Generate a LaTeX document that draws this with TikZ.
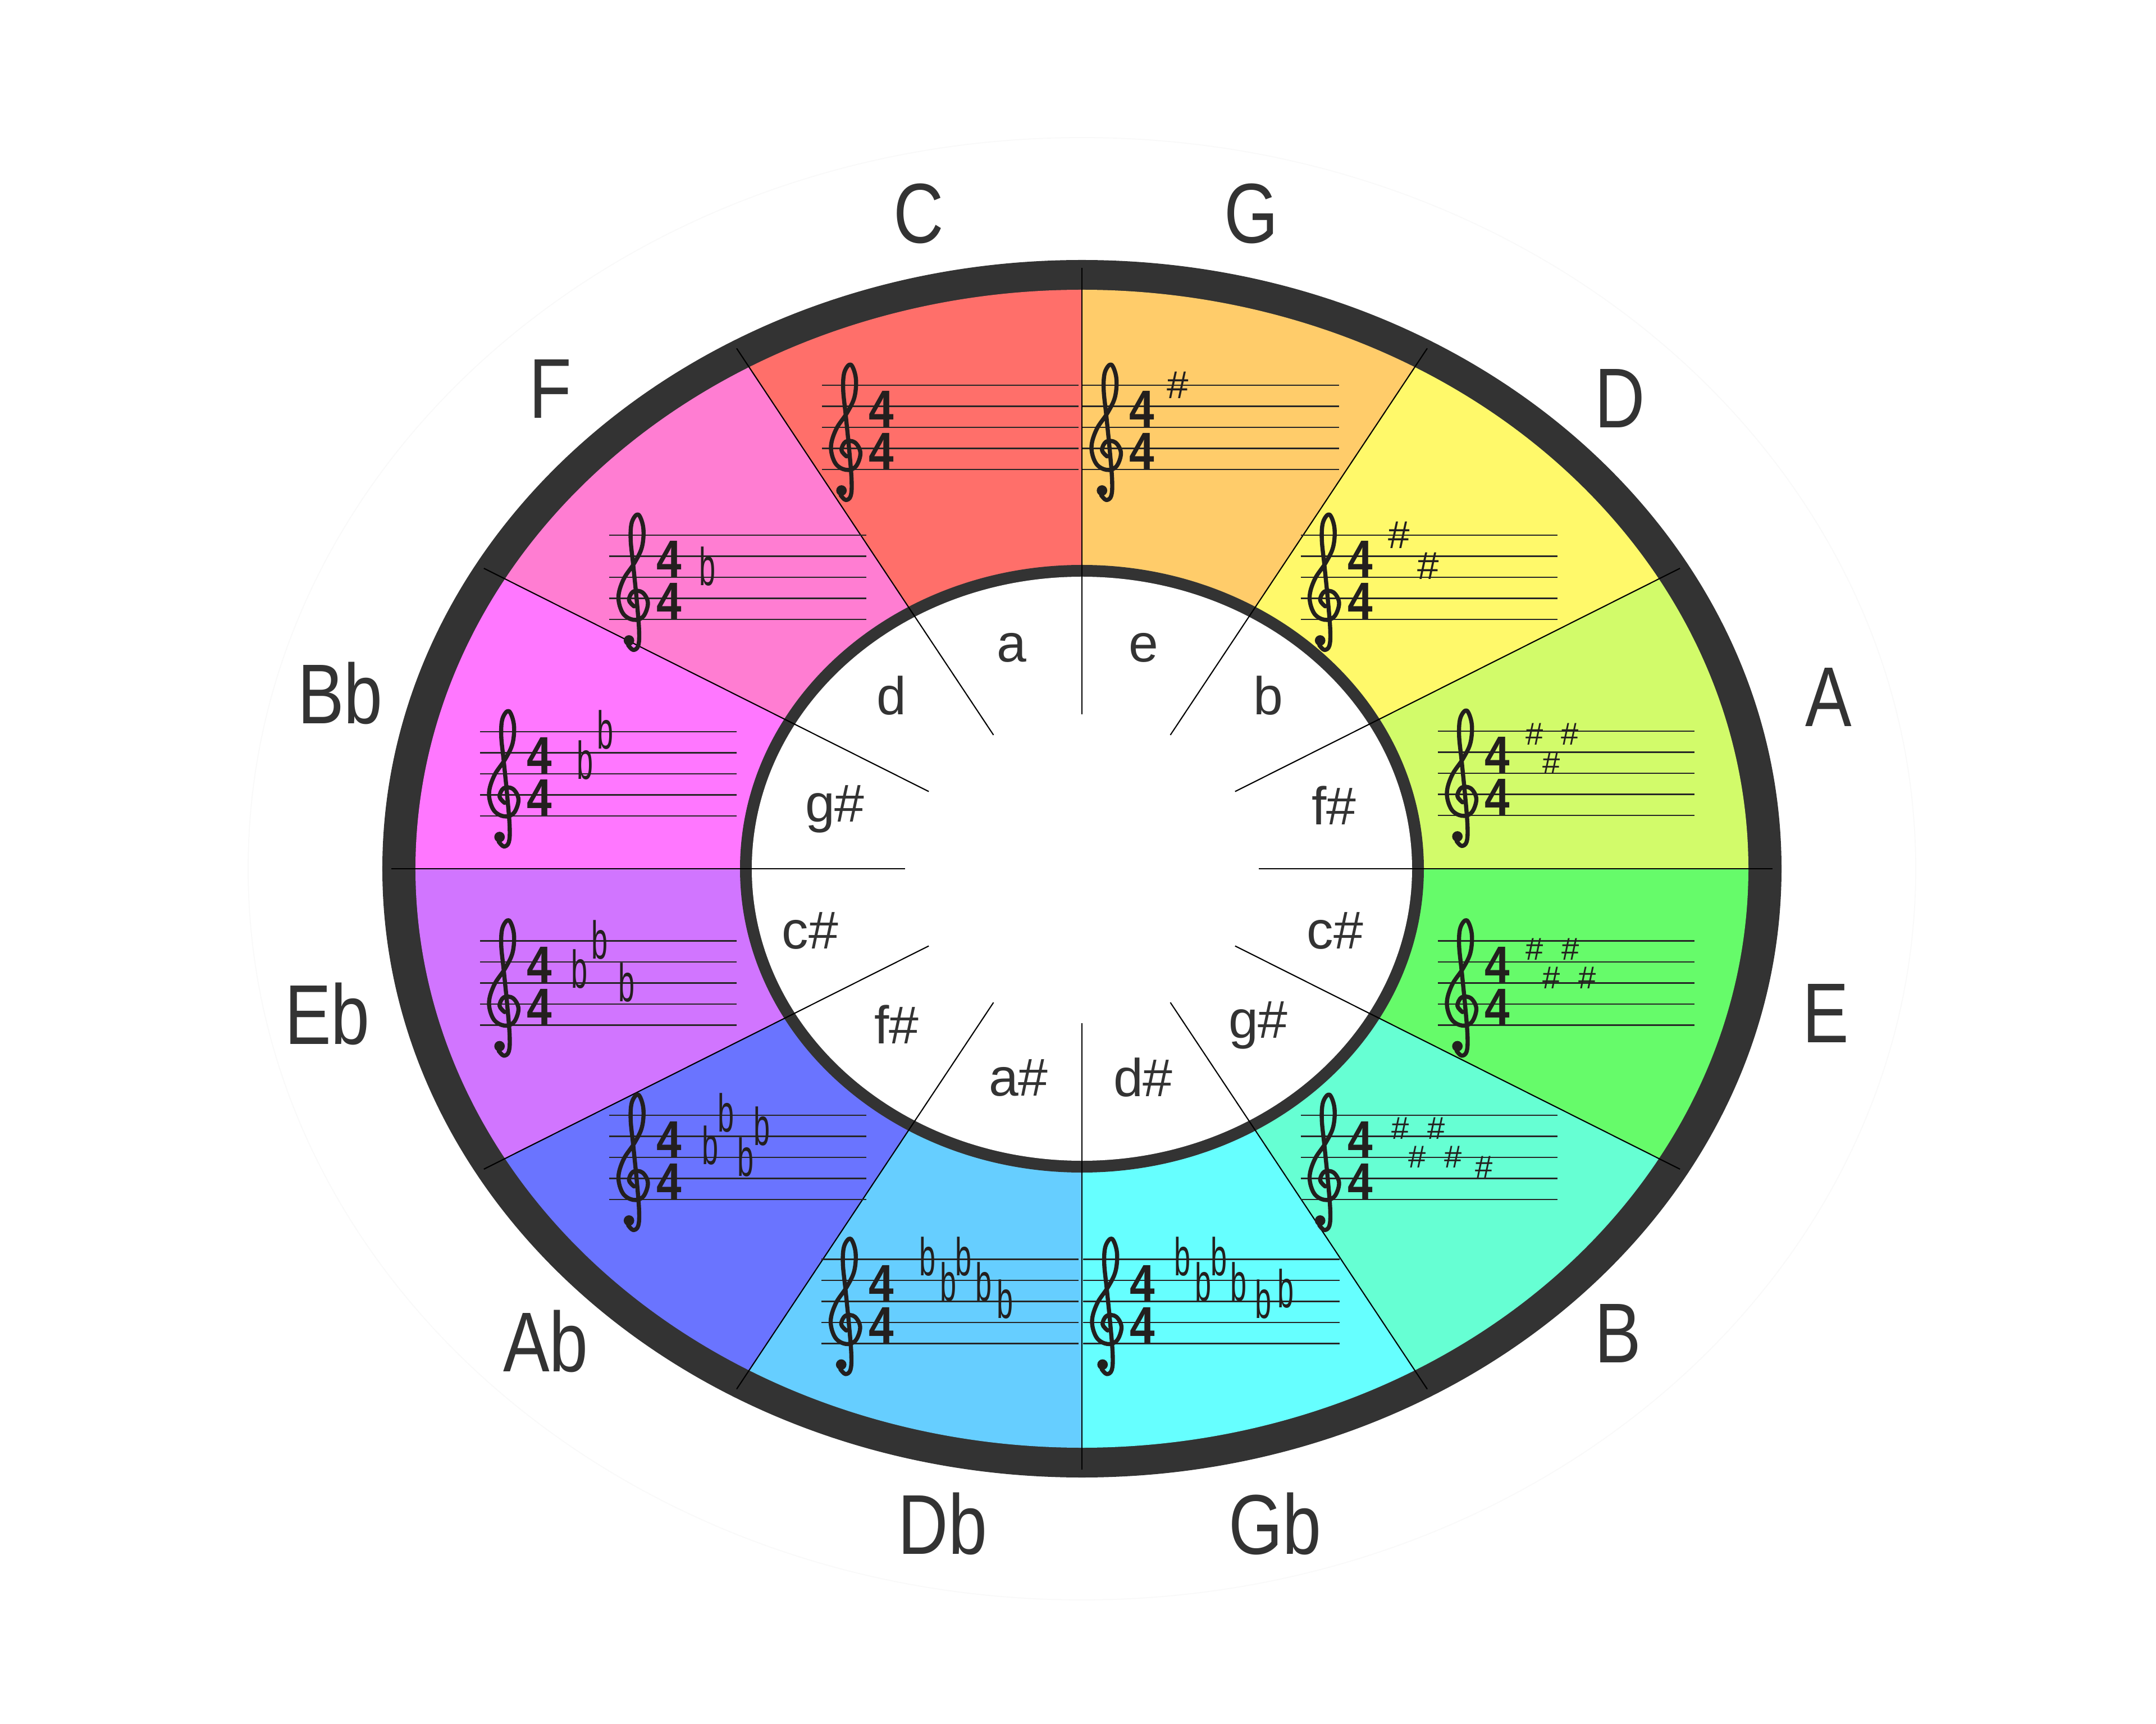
\documentclass[tikz,border=0pt]{standalone}
\usepackage{fontspec}
\setmainfont{Liberation Sans}
\newfontfamily\keyfont[FakeStretch=0.82]{Liberation Sans}
\newfontfamily\flatfont[FakeStretch=0.55]{Liberation Sans}
\newfontfamily\timefont[FakeStretch=0.86]{Liberation Sans}
\usepackage{xcolor}
\definecolor{ringgray}{HTML}{333333}
\definecolor{clefink}{HTML}{231F1E}
\definecolor{secC}{HTML}{FF6F6A}
\definecolor{secG}{HTML}{FFCC6A}
\definecolor{secD}{HTML}{FFF96A}
\definecolor{secA}{HTML}{D2FB6A}
\definecolor{secE}{HTML}{66FB6A}
\definecolor{secB}{HTML}{66FFD3}
\definecolor{secGb}{HTML}{66FFFF}
\definecolor{secDb}{HTML}{66CEFF}
\definecolor{secAb}{HTML}{6A74FF}
\definecolor{secEb}{HTML}{D175FF}
\definecolor{secBb}{HTML}{FF77FF}
\definecolor{secF}{HTML}{FF7DD2}
\usepackage{tikz}

\begin{document}
\begin{tikzpicture}[
    spoke/.style={draw=black, line width=0.6pt},
    staffline/.style={draw=black!85, line width=0.8pt},
    clef/.style={draw=clefink, line width=2.1pt, line cap=round, line join=round},
    timesig/.style={anchor=base, inner sep=0pt, text=clefink,
        font=\timefont\bfseries\fontsize{26.5}{26.5}\selectfont},
    keylabel/.style={text=ringgray, inner sep=0pt,
        font=\keyfont\fontsize{43}{43}\selectfont},
    minorlabel/.style={text=ringgray, inner sep=0pt,
        font=\fontsize{27}{27}\selectfont},
    sharpsign/.style={text=clefink, inner sep=0pt,
        font=\fontsize{16}{16}\selectfont},
    bigsharp/.style={sharpsign, font=\fontsize{19.7}{19.7}\selectfont},
    flatsign/.style={anchor=base west, inner sep=0pt, text=clefink,
        font=\flatfont\fontsize{27}{27}\selectfont},
    pics/staff/.style={code={
        \draw[staffline] (0,0) -- (4.57,0);
        \draw[staffline] (0,-0.375) -- (4.57,-0.375);
        \draw[staffline] (0,-0.75) -- (4.57,-0.75);
        \draw[staffline] (0,-1.125) -- (4.57,-1.125);
        \draw[staffline] (0,-1.5) -- (4.57,-1.5);
        \begin{scope}[shift={(0.43,-1.5)}, scale=0.375]
            \draw[clef] plot[smooth, tension=0.6] coordinates {
                (0.02,0.62) (-0.22,0.92) (-0.02,1.32) (0.42,1.28) (0.68,0.78)
                (0.46,0.14) (0.0,-0.02) (-0.5,0.28) (-0.72,1.05) (-0.48,1.9)
                (0.05,2.7) (0.4,3.45) (0.46,4.35) (0.22,4.98) (-0.08,4.62)
                (-0.14,3.8) (-0.02,2.6) (0.14,1.0) (0.26,-0.5) (0.22,-1.25)
                (-0.02,-1.45) (-0.26,-1.22)};
            \fill[clefink] (-0.22,-1.0) circle (0.25);
        \end{scope}
        \node[timesig] (-top) at (1.06,-0.75) {4};
        \node[timesig] (-bot) at (1.06,-1.5) {4};
    }}
]

\fill[white] (-19.27,-15.22) rectangle (19.13,15.47);
\useasboundingbox (-19.27,-15.22) rectangle (19.13,15.47);

% outer rings
\draw[gray!5, line width=0.5pt] (0,0) ellipse [x radius=14.85, y radius=13.02];
\fill[ringgray] (0,0) ellipse [x radius=12.46, y radius=10.84];

% key sectors
\fill[secC]  (0,0) -- (90:11.87 and 10.31) arc[start angle=90, end angle=120, x radius=11.87, y radius=10.31] -- cycle;
\fill[secG]  (0,0) -- (60:11.87 and 10.31) arc[start angle=60, end angle=90, x radius=11.87, y radius=10.31] -- cycle;
\fill[secD]  (0,0) -- (30:11.87 and 10.31) arc[start angle=30, end angle=60, x radius=11.87, y radius=10.31] -- cycle;
\fill[secA]  (0,0) -- (0:11.87 and 10.31) arc[start angle=0, end angle=30, x radius=11.87, y radius=10.31] -- cycle;
\fill[secE]  (0,0) -- (-30:11.87 and 10.31) arc[start angle=-30, end angle=0, x radius=11.87, y radius=10.31] -- cycle;
\fill[secB]  (0,0) -- (-60:11.87 and 10.31) arc[start angle=-60, end angle=-30, x radius=11.87, y radius=10.31] -- cycle;
\fill[secGb] (0,0) -- (-90:11.87 and 10.31) arc[start angle=-90, end angle=-60, x radius=11.87, y radius=10.31] -- cycle;
\fill[secDb] (0,0) -- (-120:11.87 and 10.31) arc[start angle=-120, end angle=-90, x radius=11.87, y radius=10.31] -- cycle;
\fill[secAb] (0,0) -- (-150:11.87 and 10.31) arc[start angle=-150, end angle=-120, x radius=11.87, y radius=10.31] -- cycle;
\fill[secEb] (0,0) -- (180:11.87 and 10.31) arc[start angle=180, end angle=210, x radius=11.87, y radius=10.31] -- cycle;
\fill[secBb] (0,0) -- (150:11.87 and 10.31) arc[start angle=150, end angle=180, x radius=11.87, y radius=10.31] -- cycle;
\fill[secF]  (0,0) -- (120:11.87 and 10.31) arc[start angle=120, end angle=150, x radius=11.87, y radius=10.31] -- cycle;

% inner ring
\fill[ringgray] (0,0) ellipse [x radius=6.09, y radius=5.41];
\fill[white] (0,0) ellipse [x radius=5.88, y radius=5.20];

% spokes
\draw[spoke] (0:3.15 and 2.75) -- (0:12.3 and 10.7);
\draw[spoke] (30:3.15 and 2.75) -- (30:12.3 and 10.7);
\draw[spoke] (60:3.15 and 2.75) -- (60:12.3 and 10.7);
\draw[spoke] (90:3.15 and 2.75) -- (90:12.3 and 10.7);
\draw[spoke] (120:3.15 and 2.75) -- (120:12.3 and 10.7);
\draw[spoke] (150:3.15 and 2.75) -- (150:12.3 and 10.7);
\draw[spoke] (180:3.15 and 2.75) -- (180:12.3 and 10.7);
\draw[spoke] (210:3.15 and 2.75) -- (210:12.3 and 10.7);
\draw[spoke] (240:3.15 and 2.75) -- (240:12.3 and 10.7);
\draw[spoke] (270:3.15 and 2.75) -- (270:12.3 and 10.7);
\draw[spoke] (300:3.15 and 2.75) -- (300:12.3 and 10.7);
\draw[spoke] (330:3.15 and 2.75) -- (330:12.3 and 10.7);

% staves
\pic (stC)  at (-4.63,8.61)   {staff};
\pic (stG)  at (0.01,8.61)    {staff};
\pic (stD)  at (3.895,5.94)   {staff};
\pic (stA)  at (6.34,2.45)    {staff};
\pic (stE)  at (6.34,-1.285)  {staff};
\pic (stB)  at (3.895,-4.39)  {staff};
\pic (stGb) at (0.02,-6.955)  {staff};
\pic (stDb) at (-4.635,-6.955) {staff};
\pic (stAb) at (-8.415,-4.39) {staff};
\pic (stEb) at (-10.72,-1.285) {staff};
\pic (stBb) at (-10.72,2.44)  {staff};
\pic (stF)  at (-8.415,5.94)  {staff};

% sharps
\node[bigsharp] (sG1) at (1.71,8.61) {\#};
\node[bigsharp] (sD1) at (5.645,5.94) {\#};
\node[bigsharp] (sD2) at (6.165,5.39) {\#};
\node[sharpsign] (sA1) at (8.06,2.40) {\#};
\node[sharpsign] (sA2) at (8.36,1.88) {\#};
\node[sharpsign] (sA3) at (8.69,2.40) {\#};
\node[sharpsign] (sE1) at (8.06,-1.43) {\#};
\node[sharpsign] (sE2) at (8.36,-1.945) {\#};
\node[sharpsign] (sE3) at (8.70,-1.43) {\#};
\node[sharpsign] (sE4) at (9.00,-1.945) {\#};
\node[sharpsign] (sB1) at (5.675,-4.62) {\#};
\node[sharpsign] (sB2) at (5.975,-5.136) {\#};
\node[sharpsign] (sB3) at (6.315,-4.62) {\#};
\node[sharpsign] (sB4) at (6.615,-5.136) {\#};
\node[sharpsign] (sB5) at (7.165,-5.31) {\#};

% flats
\node[flatsign] (fF1) at (-6.825,5.044) {b};
\node[flatsign] (fBb1) at (-9.0,1.596) {b};
\node[flatsign] (fBb2) at (-8.64,2.136) {b};
\node[flatsign] (fEb1) at (-9.10,-2.121) {b};
\node[flatsign] (fEb2) at (-8.74,-1.60) {b};
\node[flatsign] (fEb3) at (-8.26,-2.369) {b};
\node[flatsign] (fAb1) at (-6.775,-5.264) {b};
\node[flatsign] (fAb2) at (-6.495,-4.6825) {b};
\node[flatsign] (fAb3) at (-6.145,-5.474) {b};
\node[flatsign] (fAb4) at (-5.855,-4.9225) {b};
\node[flatsign] (fDb1) at (-2.905,-7.244) {b};
\node[flatsign] (fDb2) at (-2.535,-7.69) {b};
\node[flatsign] (fDb3) at (-2.265,-7.244) {b};
\node[flatsign] (fDb4) at (-1.905,-7.69) {b};
\node[flatsign] (fDb5) at (-1.525,-8.009) {b};
\node[flatsign] (fGb1) at (1.64,-7.244) {b};
\node[flatsign] (fGb2) at (2.01,-7.69) {b};
\node[flatsign] (fGb3) at (2.29,-7.244) {b};
\node[flatsign] (fGb4) at (2.64,-7.69) {b};
\node[flatsign] (fGb5) at (3.08,-8.009) {b};
\node[flatsign] (fGb6) at (3.48,-7.81) {b};

% major keys
\node[keylabel] (kC)  at (-2.91,11.67) {C};
\node[keylabel] (kG)  at (3.02,11.67)  {G};
\node[keylabel] (kD)  at (9.58,8.37)   {D};
\node[keylabel] (kA)  at (13.30,3.05)  {A};
\node[keylabel] (kE)  at (13.25,-2.58) {E};
\node[keylabel] (kB)  at (9.55,-8.27)  {B};
\node[keylabel] (kGb) at (3.44,-11.66) {Gb};
\node[keylabel] (kDb) at (-2.48,-11.66) {Db};
\node[keylabel] (kAb) at (-9.55,-8.41) {Ab};
\node[keylabel] (kEb) at (-13.44,-2.58) {Eb};
\node[keylabel] (kBb) at (-13.21,3.13) {Bb};
\node[keylabel] (kF)  at (-9.47,8.54)  {F};

% minor keys
\node[minorlabel] (mC)  at (-1.25,3.94) {a};
\node[minorlabel] (mG)  at (1.10,3.94)  {e};
\node[minorlabel] (mD)  at (3.32,3.08)  {b};
\node[minorlabel] (mA)  at (4.49,1.13)  {f\#};
\node[minorlabel] (mE)  at (4.51,-1.11) {c\#};
\node[minorlabel] (mB)  at (3.14,-2.79) {g\#};
\node[minorlabel] (mGb) at (1.09,-3.72) {d\#};
\node[minorlabel] (mDb) at (-1.13,-3.72) {a\#};
\node[minorlabel] (mAb) at (-3.30,-2.77) {f\#};
\node[minorlabel] (mEb) at (-4.84,-1.11) {c\#};
\node[minorlabel] (mBb) at (-4.40,1.06) {g\#};
\node[minorlabel] (mF)  at (-3.39,3.08) {d};

\end{tikzpicture}
\end{document}
